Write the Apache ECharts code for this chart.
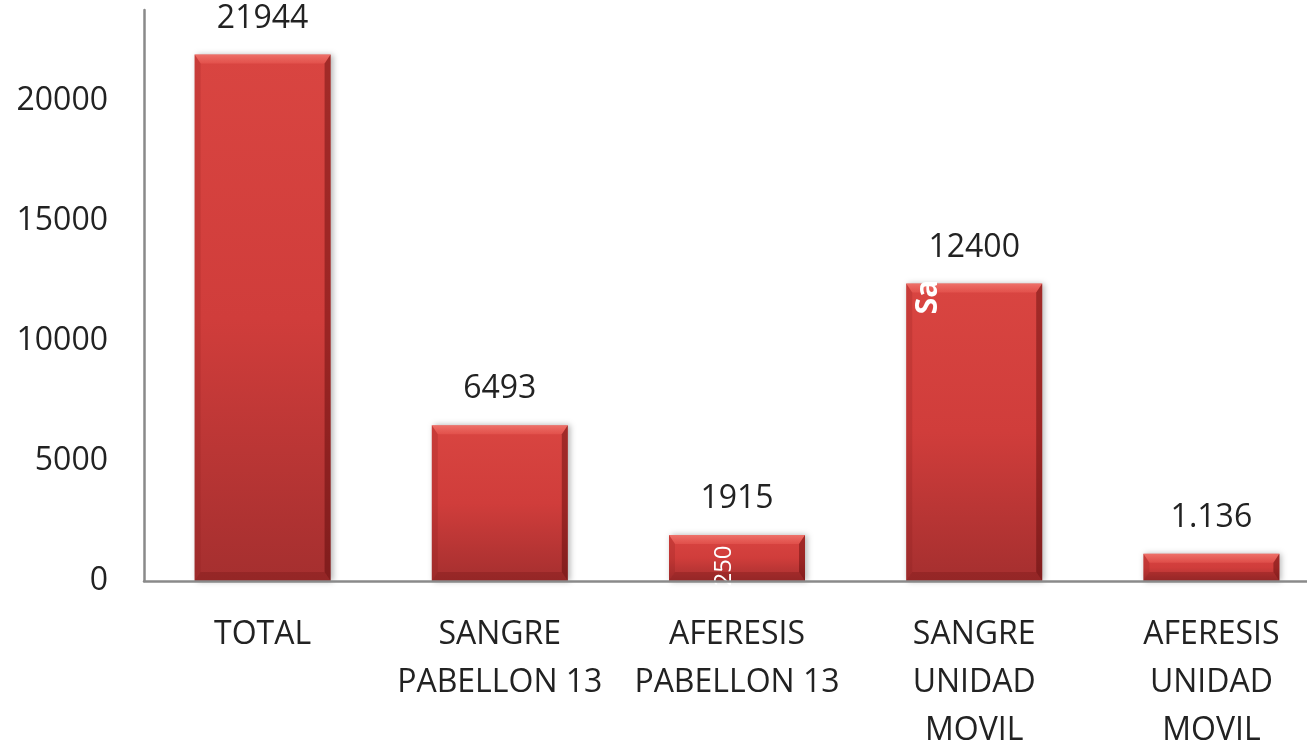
<!DOCTYPE html>
<html>
<head>
<meta charset="utf-8">
<title>Donaciones</title>
<script src="https://cdn.jsdelivr.net/npm/echarts@6/dist/echarts.min.js"></script>
<style>
  html, body { margin: 0; padding: 0; background: #fff; }
  #main { width: 1307px; height: 745px; }
</style>
</head>
<body>
<div id="main"></div>
<script>
// categorias del eje x
const categories = [
  "TOTAL",
  "SANGRE\nPABELLON 13",
  "AFERESIS\nPABELLON 13",
  "SANGRE\nUNIDAD\nMOVIL",
  "AFERESIS\nUNIDAD\nMOVIL"
];
// valores de las barras
const values = [21944, 6493, 1915, 12400, 1136];
// etiquetas tal como aparecen sobre cada barra
const valueLabels = ["21944", "6493", "1915", "12400", "1.136"];
// etiquetas del eje y
const yTicks = [0, 5000, 10000, 15000, 20000];

const chart = echarts.init(document.getElementById("main"));

const font = "'Open Sans', 'Noto Sans', sans-serif";
const BAR_W = 136;

// biselado de cada barra (estilo Excel)
const renderBevel = (params, api) => {
  const top = api.coord([api.value(0), api.value(1)]);
  const base = api.coord([api.value(0), 0]);
  const x0 = top[0] - BAR_W / 2;
  const x1 = top[0] + BAR_W / 2;
  const y0 = top[1];
  const y1 = base[1];
  const b = Math.min(9, (y1 - y0) / 2);
  const s = 6;
  return {
    type: "group",
    children: [
      {
        type: "polygon",
        shape: { points: [[x0, y0], [x1, y0], [x1 - s, y0 + b], [x0 + s, y0 + b]] },
        style: {
          fill: new echarts.graphic.LinearGradient(0, 0, 0, 1, [
            { offset: 0, color: "rgba(255,150,140,0.55)" },
            { offset: 1, color: "rgba(255,120,110,0.25)" },
          ]),
        },
      },
      {
        type: "polygon",
        shape: { points: [[x0, y0], [x0 + s, y0 + b], [x0 + s, y1 - b], [x0, y1]] },
        style: { fill: "rgba(120,20,20,0.18)" },
      },
      {
        type: "polygon",
        shape: { points: [[x1, y0], [x1, y1], [x1 - s, y1 - b], [x1 - s, y0 + b]] },
        style: { fill: "rgba(70,0,0,0.38)" },
      },
      {
        type: "polygon",
        shape: { points: [[x0, y1], [x0 + s, y1 - b], [x1 - s, y1 - b], [x1, y1]] },
        style: { fill: "rgba(90,10,10,0.22)" },
      },
    ],
  };
};

const option = {
  animation: false,
  grid: {
    left: 144,
    right: -23,
    top: 10,
    bottom: 164,
    outerBoundsMode: "none",
  },
  xAxis: {
    type: "category",
    data: categories,
    z: 10,
    axisLine: {
      lineStyle: { color: "#8a8a8a", width: 2.5 },
    },
    axisTick: { show: false },
    axisLabel: {
      interval: 0,
      margin: 30,
      fontFamily: font,
      fontSize: 32,
      lineHeight: 48,
      color: "#222",
    },
  },
  yAxis: {
    type: "value",
    min: 0,
    max: 23800,
    interval: 5000,
    z: 10,
    axisLine: {
      show: true,
      lineStyle: { color: "#8a8a8a", width: 2.5 },
    },
    axisTick: { show: false },
    splitLine: { show: false },
    axisLabel: {
      margin: 36,
      showMaxLabel: false,
      fontFamily: font,
      fontSize: 32,
      color: "#222",
      formatter: (v) => (yTicks.includes(v) ? String(v) : ""),
    },
  },
  series: [
    {
      type: "bar",
      data: values,
      barWidth: BAR_W,
      itemStyle: {
        color: new echarts.graphic.LinearGradient(0, 0, 0, 1, [
          { offset: 0, color: "#d94541" },
          { offset: 0.5, color: "#d03d3b" },
          { offset: 1, color: "#a52f2f" },
        ]),
        shadowColor: "rgba(0,0,0,0.3)",
        shadowBlur: 6,
        shadowOffsetX: 2,
        shadowOffsetY: 0,
      },
      label: {
        show: true,
        position: "top",
        distance: 20,
        fontFamily: font,
        fontSize: 32,
        color: "#222",
        formatter: (p) => valueLabels[p.dataIndex],
      },
    },
    {
      type: "custom",
      data: values.map((v, i) => [i, v]),
      renderItem: renderBevel,
      silent: true,
      z: 3,
    },
  ],
  // restos de etiquetas blancas que se ven en la imagen original
  graphic: [
    {
      type: "text",
      x: 724,
      y: 566,
      rotation: Math.PI / 2,
      z: 5,
      style: {
        text: "250",
        fill: "#fff",
        font: "24px 'Open Sans', sans-serif",
        align: "center",
        verticalAlign: "middle",
      },
    },
    {
      type: "text",
      x: 928,
      y: 297,
      rotation: Math.PI / 2,
      z: 5,
      style: {
        text: "Sa",
        fill: "#fff",
        font: "bold 30px 'Open Sans', sans-serif",
        align: "center",
        verticalAlign: "middle",
      },
    },
  ],
};

chart.setOption(option);
</script>
</body>
</html>
